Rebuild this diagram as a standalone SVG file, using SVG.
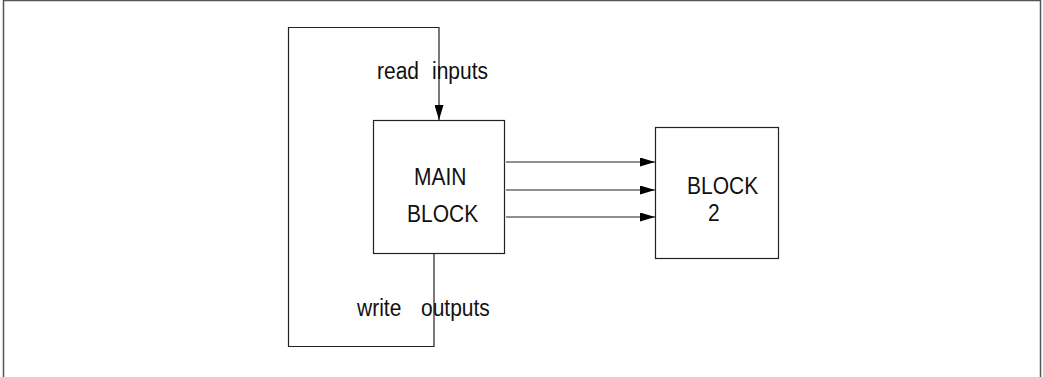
<svg xmlns="http://www.w3.org/2000/svg" width="1043" height="377" viewBox="0 0 1043 377">
<style>
.ln{fill:none;stroke:#222;stroke-width:1.2}
.box{fill:#fff;stroke:#222;stroke-width:1.2}
text{font-family:"Liberation Sans",Arial,sans-serif;font-size:21px;fill:#111}
</style>
<defs>
<marker id="ah" viewBox="0 0 15 9" refX="15" refY="4.5" markerWidth="15" markerHeight="9" markerUnits="userSpaceOnUse" orient="auto">
<path d="M0,0 L15,4.5 L0,9 Z" fill="#000"/>
</marker>
</defs>
<rect x="0" y="0" width="1043" height="377" fill="#fff"/>
<rect x="3.5" y="0.5" width="1037" height="420" fill="none" stroke="#555" stroke-width="1.5"/>
<g id="connectors">
<path class="ln" d="M434,254 V346.5 H288.5 V27.5 H439 V120" marker-end="url(#ah)"/>
<line class="ln" x1="506" y1="162" x2="655" y2="162" marker-end="url(#ah)"/>
<line class="ln" x1="506" y1="190" x2="655" y2="190" marker-end="url(#ah)"/>
<line class="ln" x1="506" y1="217" x2="655" y2="217" marker-end="url(#ah)"/>
<text transform="translate(377,79) scale(1,1.1)">read</text>
<text transform="translate(432,79) scale(1,1.1)">inputs</text>
<text transform="translate(357,316) scale(1,1.1)">write</text>
<text transform="translate(421,316) scale(1,1.1)">outputs</text>
</g>
<g id="main-block">
<rect class="box" x="373.5" y="120.5" width="131" height="133"/>
<text transform="translate(414,185) scale(1,1.1)">MAIN</text>
<text transform="translate(407,222) scale(1,1.1)">BLOCK</text>
</g>
<g id="block-2">
<rect class="box" x="655.5" y="127.5" width="123" height="131"/>
<text transform="translate(687,194) scale(1,1.1)">BLOCK</text>
<text transform="translate(708,221) scale(1,1.1)">2</text>
</g>
</svg>
